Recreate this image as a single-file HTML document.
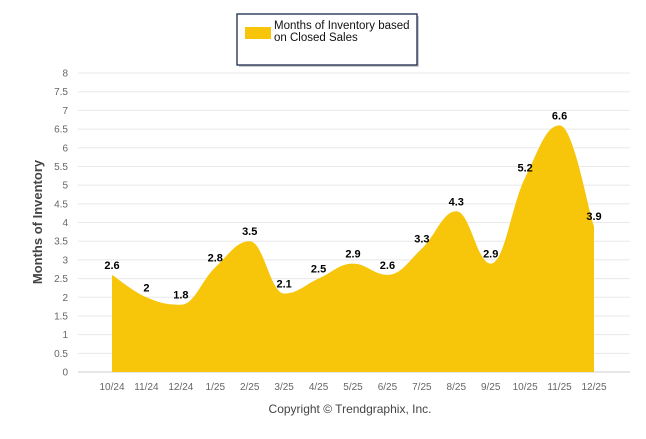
<!DOCTYPE html>
<html><head><meta charset="utf-8"><style>
body{margin:0;background:#fff;font-family:"Liberation Sans",sans-serif;}
svg text{font-family:"Liberation Sans",sans-serif;}
</style></head><body>
<svg id="chart" width="646" height="434" xmlns="http://www.w3.org/2000/svg">
<g>
<rect x="239" y="16" width="180" height="51" fill="#ccc"/>
<rect x="237" y="14" width="180" height="51" fill="#fff" stroke="#1a2a4a" stroke-width="1.3"/>
<rect x="245" y="27" width="26" height="12" fill="#f7c50a"/>
<text x="274" y="29" font-size="11.5" fill="#111">Months of Inventory based</text>
<text x="274" y="41" font-size="11.5" fill="#111">on Closed Sales</text>
</g>
<g id="grid"></g>
<g id="area"></g>
<g id="labels"></g>
<text transform="translate(42,222) rotate(-90)" text-anchor="middle" font-size="13" font-weight="bold" fill="#444">Months of Inventory</text>
<text x="350" y="413" text-anchor="middle" font-size="12" fill="#444">Copyright © Trendgraphix, Inc.</text>
</svg>
<script>
const categories=["10/24","11/24","12/24","1/25","2/25","3/25","4/25","5/25","6/25","7/25","8/25","9/25","10/25","11/25","12/25"];
const values=[2.6,2,1.8,2.8,3.5,2.1,2.5,2.9,2.6,3.3,4.3,2.9,5.2,6.6,3.9];
const yTicks=[0,0.5,1,1.5,2,2.5,3,3.5,4,4.5,5,5.5,6,6.5,7,7.5,8];
const NS="http://www.w3.org/2000/svg";
const plotL=78,plotR=630,y0=372,y8=73,step=(594-112)/14;
function xs(i){return 112+i*step;}
function ys(v){return y0-(y0-y8)*v/8;}
function mk(t,a,p){const e=document.createElementNS(NS,t);for(const k in a)e.setAttribute(k,a[k]);p.appendChild(e);return e;}
const grid=document.getElementById('grid');
yTicks.forEach(v=>{
  const l=mk('line',{x1:plotL,x2:plotR,y1:ys(v),y2:ys(v),stroke:v===0?'#ccc':'#e8e8e8','stroke-width':1},grid);
  
  
  const t=mk('text',{x:68,y:ys(v)+3.5,'text-anchor':'end','font-size':10,fill:'#666'},grid);
  t.textContent=String(v);
  
  
});
categories.forEach((c,i)=>{
  const t=mk('text',{x:xs(i),y:390,'text-anchor':'middle','font-size':10,fill:'#666'},grid);
  t.textContent=c;
  
  
});
const pts=values.map((v,i)=>[xs(i),ys(v)]);
let d=`M${pts[0][0]},${y0} L${pts[0][0]},${pts[0][1]}`;
const sm=1.5;
for(let i=0;i<pts.length-1;i++){
  const p0=pts[i-1]||pts[i],p1=pts[i],p2=pts[i+1],p3=pts[i+2]||p2;
  let c1=[p1[0]+(p2[0]-p0[0])/(2*sm+2),p1[1]+(p2[1]-p0[1])/(2*sm+2)];
  let c2=[p2[0]-(p3[0]-p1[0])/(2*sm+2),p2[1]-(p3[1]-p1[1])/(2*sm+2)];
  if((p1[1]-p0[1])*(p1[1]-p2[1])>0&&i>0)c1[1]=p1[1];
  if((p2[1]-p1[1])*(p2[1]-p3[1])>0&&i+2<pts.length)c2[1]=p2[1];
  d+=` C${c1[0]},${c1[1]} ${c2[0]},${c2[1]} ${p2[0]},${p2[1]}`;
}
d+=` L${pts[pts.length-1][0]},${y0} Z`;
const area=mk('path',{d:d,fill:'#f7c50a'},document.getElementById('area'));


const lab=document.getElementById('labels');
values.forEach((v,i)=>{
  const t=mk('text',{x:xs(i),y:ys(v)-6,'text-anchor':'middle','font-size':11,'font-weight':'bold',fill:'#000'},lab);
  t.textContent=String(v);
  
  
});
</script>
</body></html>
